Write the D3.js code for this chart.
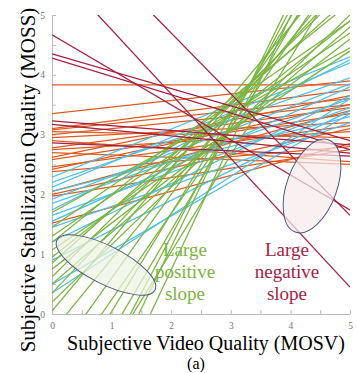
<!DOCTYPE html>
<html>
<head>
<meta charset="utf-8">
<script src="https://cdn.jsdelivr.net/npm/d3@7"></script>
<style>
  body { margin: 0; background: #fff; }
  svg { display: block; }
  .axis text { font-family: "Liberation Serif", serif; font-size: 9.5px; fill: #777; }
  .axis path, .axis line { stroke: #bbb; }
</style>
</head>
<body>
<div id="chart"></div>
<script>
// each line: value at MOSV = 0 and value at MOSV = 5 (clipped to the box)
let redStart = [5.83, 6.73, 4.67, 4.35, 4.28, 3.23, 3.17, 2.86];
let redEnd   = [0.45, 1.65, 1.74, 2.90, 2.75, 2.83, 2.69, 2.64];

let orangeStart = [3.83, 3.35, 3.10, 3.08, 3.00, 2.95, 2.78, 2.75, 2.62, 2.58, 2.46, 2.42, 2.38, 2.05, 2.00, 1.97, 1.52, 2.90, 2.70, 3.05];
let orangeEnd   = [3.83, 3.90, 3.75, 3.60, 3.50, 3.20, 3.45, 3.05, 3.65, 3.35, 3.15, 3.50, 2.80, 3.40, 3.10, 2.75, 2.85, 2.55, 2.50, 2.95];

let blueStart = [2.29, 2.20, 2.12, 1.92, 1.85, 1.74, 1.65, 1.55, 1.45, 1.20, 0.90, 0.50, 0.35, 2.05];
let blueEnd   = [4.30, 3.95, 4.20, 3.85, 3.60, 4.25, 3.45, 3.80, 3.20, 3.65, 3.40, 3.35, 3.60, 3.30];

let greenStart = [1.70, 1.45, 1.30, 1.20, 1.07, 0.95, 0.85, 0.75, 0.62, 0.50, 0.35, 0.20, 0.05, -0.30, -0.80, -1.20, -1.60, -2.00, -2.50, -3.00, -3.50, -2.20];
let greenEnd   = [4.45, 4.90, 4.70, 5.20, 4.40, 4.90, 5.30, 4.60, 5.50, 4.80, 5.60, 5.00, 6.00, 5.80, 6.20, 6.00, 6.60, 6.50, 7.00, 7.30, 7.10, 5.90];

let ticks = [0, 0.5, 1, 1.5, 2, 2.5, 3, 3.5, 4, 4.5, 5];

let W = 357, H = 373;
let margin = {top: 15, right: 7, bottom: 59, left: 52};
let width = W - margin.left - margin.right;
let height = H - margin.top - margin.bottom;

let svg = d3.select("#chart").append("svg")
    .attr("width", W)
    .attr("height", H);

let g = svg.append("g")
    .attr("transform", `translate(${margin.left},${margin.top})`);

let x = d3.scaleLinear().domain([0, 5]).range([0, width]);
let y = d3.scaleLinear().domain([0, 5]).range([height, 0]);

svg.append("defs").append("clipPath")
    .attr("id", "plot-clip")
    .append("rect")
    .attr("width", width)
    .attr("height", height);

// axes
g.append("g")
    .attr("class", "axis")
    .call(d3.axisLeft(y).tickValues(ticks)
        .tickFormat(d => Number.isInteger(d) ? d : "")
        .tickSizeInner(-4).tickSizeOuter(0).tickPadding(7));
g.append("g")
    .attr("class", "axis")
    .attr("transform", `translate(0,${height})`)
    .call(d3.axisBottom(x).tickValues(ticks)
        .tickFormat(d => Number.isInteger(d) ? d : "")
        .tickSizeInner(-4).tickSizeOuter(0).tickPadding(8));

let lines = g.append("g").attr("clip-path", "url(#plot-clip)");

function drawSet(starts, ends, color) {
    let data = starts.map((s, i) => ({a: s, b: ends[i]}));
    lines.append("g").selectAll("line")
        .data(data)
        .enter().append("line")
        .attr("x1", x(0))
        .attr("y1", d => y(d.a))
        .attr("x2", x(5))
        .attr("y2", d => y(d.b))
        .attr("stroke", color)
        .attr("stroke-width", 1.25);
}

drawSet(orangeStart, orangeEnd, "#e0591f");
drawSet(blueStart, blueEnd, "#4fc0e8");
drawSet(greenStart, greenEnd, "#7ab440");
drawSet(redStart, redEnd, "#a51d3f");

// highlight ellipses
g.append("ellipse")
    .attr("cx", 106 - margin.left).attr("cy", 265 - margin.top)
    .attr("rx", 55).attr("ry", 19)
    .attr("transform", `rotate(27, ${106 - margin.left}, ${265 - margin.top})`)
    .attr("fill", "#eef4e2").attr("fill-opacity", 0.7)
    .attr("stroke", "#4b5878").attr("stroke-width", 1);

g.append("ellipse")
    .attr("cx", 312 - margin.left).attr("cy", 186 - margin.top)
    .attr("rx", 49).attr("ry", 25)
    .attr("transform", `rotate(-70, ${312 - margin.left}, ${186 - margin.top})`)
    .attr("fill", "#f6e9ec").attr("fill-opacity", 0.7)
    .attr("stroke", "#4b5878").attr("stroke-width", 1);

// annotations
function note(words, cx, color) {
    let t = svg.append("text")
        .attr("text-anchor", "middle")
        .style("font-family", "'Liberation Serif', serif")
        .style("font-size", "19px")
        .attr("fill", color);
    words.forEach((w, i) => {
        t.append("tspan").attr("x", cx).attr("y", 256 + i * 22).text(w);
    });
}
note(["Large", "positive", "slope"], 185, "#7ab440");
note(["Large", "negative", "slope"], 287, "#a51d3f");

// axis titles
svg.append("text")
    .attr("text-anchor", "middle")
    .attr("transform", "translate(35,180) rotate(-90)")
    .style("font-family", "'Liberation Serif', serif")
    .style("font-size", "21px")
    .text("Subjective Stabilization Quality (MOSS)");

svg.append("text")
    .attr("text-anchor", "middle")
    .attr("x", 206).attr("y", 350)
    .style("font-family", "'Liberation Serif', serif")
    .style("font-size", "20px")
    .text("Subjective Video Quality (MOSV)");

svg.append("text")
    .attr("text-anchor", "middle")
    .attr("x", 196).attr("y", 369)
    .style("font-family", "'Liberation Serif', serif")
    .style("font-size", "16px")
    .text("(a)");
</script>
</body>
</html>
